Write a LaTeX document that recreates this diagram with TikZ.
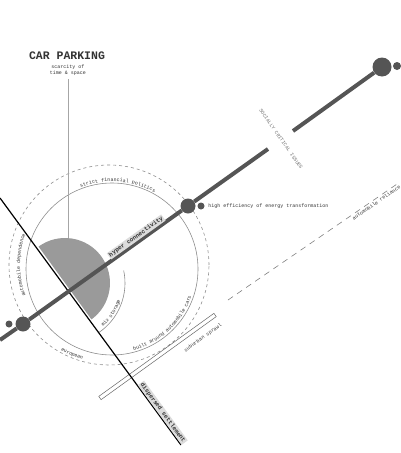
\documentclass[tikz,border=0pt]{standalone}
\usepackage{fontspec}
\setmonofont{Liberation Mono}
\usetikzlibrary{decorations.text}
\definecolor{ink}{HTML}{555555}
\definecolor{sect}{HTML}{9A9A9A}
\definecolor{pale}{HTML}{DCDCDC}
\definecolor{txt}{HTML}{333333}
\newcommand{\smalltt}{\ttfamily\fontsize{5}{6}\selectfont}

\begin{document}
\begin{tikzpicture}[x=1pt,y=1pt,
    lbl/.style={font=\smalltt,text=txt,inner sep=0.5pt},
    tag/.style={font=\ttfamily\bfseries\fontsize{6}{7}\selectfont,text=txt,fill=pale,inner sep=1pt},
    hub/.style={circle,fill=ink,inner sep=0pt},
    axis/.style={ink,line width=4pt},
    ring/.style={black!45,line width=0.6pt},
    dashring/.style={black!45,line width=0.6pt,dash pattern=on 3pt off 3pt},
    curved/.style={decorate,decoration={text along path,text align=center,text={|\smalltt\color{txt}|#1}}}]

    \useasboundingbox (0,0) rectangle (400,-453);

    \coordinate (o) at (109,-265);  % outer ring
    \coordinate (c) at (112,-269);  % inner ring
    \coordinate (s) at (65,-283);   % storage

    \draw[dashring] (o) circle[radius=100];
    \draw[ring] (c) circle[radius=86];
    \fill[sect] (s) ++(-54:45) arc[start angle=-54,end angle=126,radius=45] -- cycle;
    \draw[ring] (s) ++(-56:60) arc[start angle=-56,end angle=12,radius=60];

    \path[curved=strict financial politics,decoration={raise=1.5pt}] (c) ++(136:86) arc[start angle=136,end angle=36,radius=86];
    \path[curved=built around automobile cars,decoration={raise=2pt}] (c) ++(-100:86) arc[start angle=-100,end angle=6,radius=86];
    \path[curved=european,decoration={raise=2pt}] (o) ++(225:100) arc[start angle=225,end angle=270,radius=100];
    \path[curved=automobile dependence] (o) ++(215:89) arc[start angle=215,end angle=145,radius=89];
    \path[curved=mix storage,decoration={raise=2pt}] (s) ++(-60:60) arc[start angle=-60,end angle=-6,radius=60];

    % title
    \node[font=\ttfamily\bfseries\fontsize{11.5}{12}\selectfont,text=txt] (cp) at (67,-56) {CAR PARKING};
    \node[lbl,align=center] (sc) at (68,-70) {scarcity of\\time \& space};
    \coordinate (st) at (68,-238);
    \draw[black!35,line width=0.5pt] ([yshift=-3pt]sc.south) -- (st);

    % sprawl and reliance
    \node[draw=black!60,line width=0.5pt,minimum width=142pt,minimum height=4pt,inner sep=0pt,rotate=35.8] (sp) at (157.5,-356.5) {};
    \node[lbl,rotate=35.8] (spl) at (203,-338) {suburban sprawl};
    \coordinate (r0) at (228,-300);
    \coordinate (r1) at (400,-182);
    \draw[black!50,line width=0.6pt,dash pattern=on 6pt off 5pt] (r0) -- (r1)
        node[lbl,pos=0.85,sloped,below=1pt] (arl) {automobile reliance};

    % settlement axis
    \coordinate (b0) at (0,-198);
    \coordinate (b1) at (181,-445);
    \draw[black,line width=1.2pt] (b0) -- (b1)
        node[tag,pos=0.88,sloped,above] (ds) {dispersed settlement};

    % main axis
    \node[hub,minimum size=15pt] (h1) at (23,-324) {};
    \node[hub,minimum size=7pt] (d1) at (9,-324) {};
    \node[hub,minimum size=15pt] (h2) at (188,-206) {};
    \node[hub,minimum size=7pt] (d2) at (201,-206) {};
    \node[hub,minimum size=19pt] (h3) at (382,-67) {};
    \node[hub,minimum size=8pt] (d3) at (397,-66) {};
    \coordinate (a0) at (0,-340);
    \coordinate (a1) at (268,-149);
    \coordinate (a2) at (293,-131);
    \draw[axis] (a0) -- (h1) -- (h2) -- (a1);
    \draw[axis] (a2) -- (h3);
    \path (h1) -- (h2) node[tag,pos=0.72,sloped,above=1pt] (hc) {hyper connectivity};

    \node[lbl,anchor=west] (he) at ([xshift=3pt]d2.east) {high efficiency of energy transformation};
    \node[lbl,text=black!55,rotate=-55] (sci) at (281,-139) {SOCIALLY CRITICAL ISSUES};

\end{tikzpicture}
\end{document}
